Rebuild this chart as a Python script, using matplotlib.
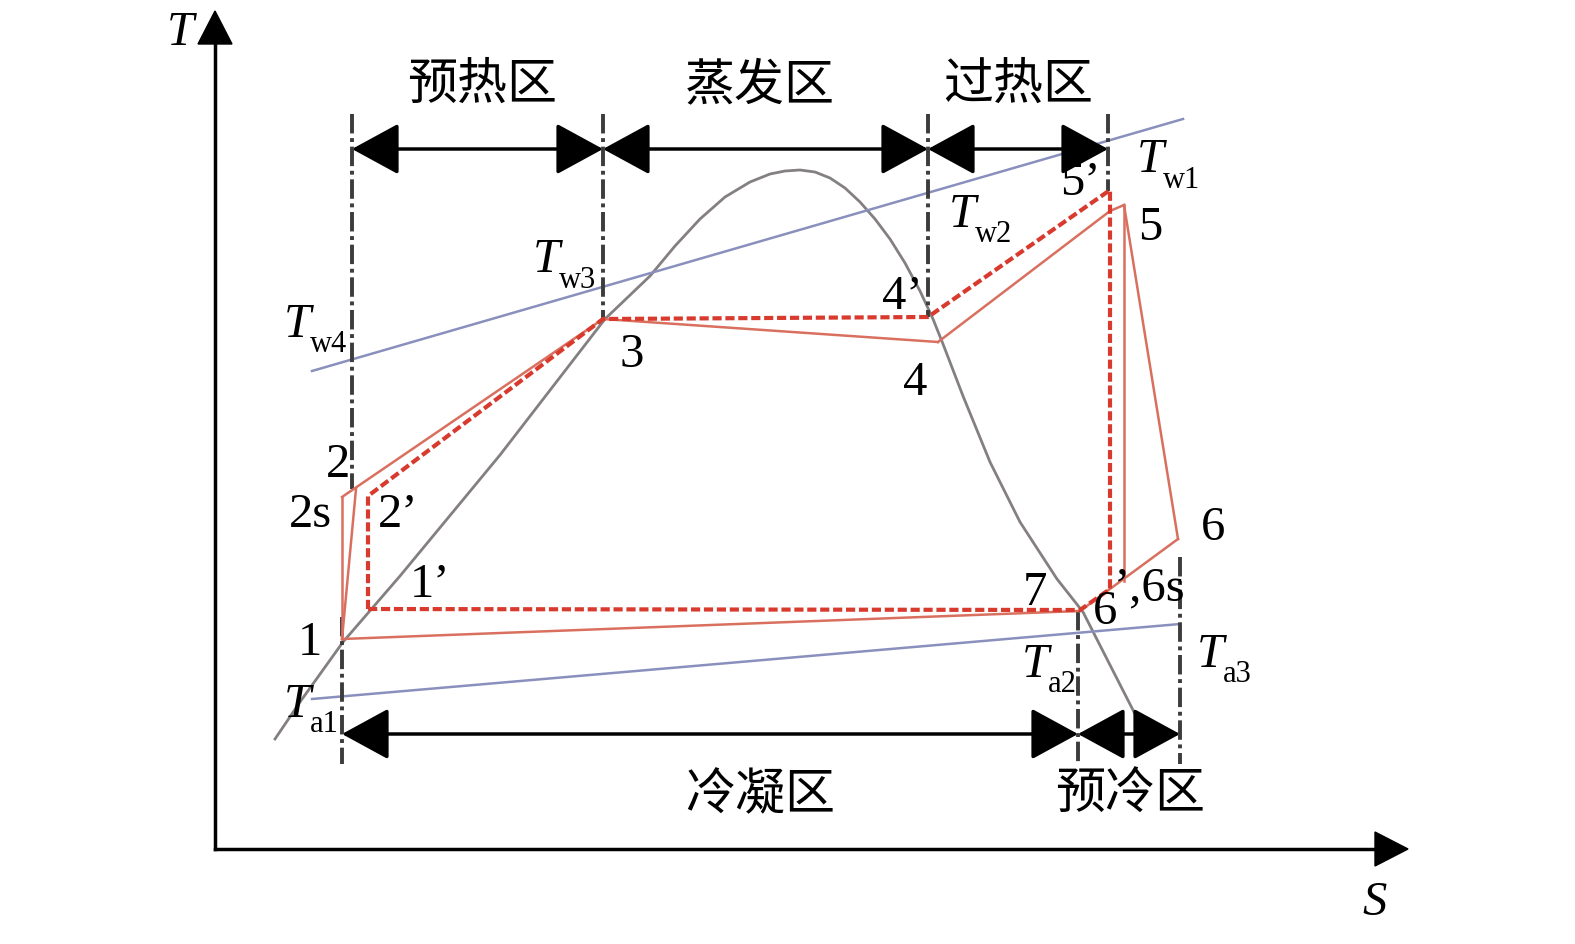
import matplotlib.pyplot as plt

# schematic T-S diagram, coordinates in picture units (x right, y down)
dome_x = [275, 300, 343, 400, 500, 605, 650, 675, 700, 725, 750, 770, 785, 800, 815, 830, 845, 860,
          875, 890, 905, 920, 933, 943, 963, 990, 1020, 1057, 1083, 1135]
dome_y = [740, 703, 643, 577, 456, 320, 277, 247, 220, 198, 183, 175, 172, 171, 173, 179, 189, 203,
          220, 240, 264, 292, 320, 345, 397, 463, 523, 580, 613, 715]

tw_x, tw_y = [312, 1183], [372, 120]
ta_x, ta_y = [312, 1180], [700, 625]

# actual cycle (solid)
real_segments = [
    ([342, 342], [640, 498]),            # 1 -> 2s
    ([342, 356], [640, 490]),            # 1 -> 2
    ([342, 603], [498, 320]),            # 2s -> 2 -> 3
    ([603, 938], [320, 343]),            # 3 -> 4
    ([938, 1110, 1124], [343, 212, 206]),  # 4 -> 5
    ([1124, 1178], [206, 540]),          # 5 -> 6
    ([1124, 1124], [206, 582]),          # 5 -> 6s
    ([1178, 1080], [540, 612]),          # 6 -> 6'
    ([1080, 342], [612, 640]),           # 6' -> 1
]
# ideal cycle (dashed)
ideal_x = [368, 368, 603, 928, 1110, 1110, 1080, 368]
ideal_y = [610, 497, 320, 318, 191, 590, 611, 610]

# zone boundaries
vlines = [(352, 115, 490), (603, 115, 320), (928, 115, 318), (1108, 115, 192),
          (342, 618, 765), (1078, 612, 765), (1180, 558, 765)]
top_bounds = [352, 603, 928, 1108]
bottom_bounds = [342, 1078, 1180]
top_zones = ['预热区', '蒸发区', '过热区']
top_zone_x = [482, 760, 1018]
bottom_zones = ['冷凝区', '预冷区']
bottom_zone_x = [760, 1130]

fig = plt.figure(figsize=(15.75, 9.45), dpi=100)
ax = fig.add_axes([0, 0, 1, 1])
ax.set_xlim(0, 1575)
ax.set_ylim(945, 0)
ax.axis('off')

serif = ['Liberation Serif', 'DejaVu Serif']
cjk = ['Noto Sans CJK SC', 'DejaVu Sans']

# axes with arrows
ax.plot([215, 215], [850, 40], color='black', lw=2.5)
ax.plot([215, 1380], [850, 850], color='black', lw=2.5)
ax.fill([198, 232, 215], [45, 45, 12], color='black')
ax.fill([1375, 1375, 1408], [833, 867, 850], color='black')
ax.text(180, 33, 'T', fontsize=35, family=serif, style='italic', ha='center', va='center')
ax.text(1375, 903, 'S', fontsize=35, family=serif, style='italic', ha='center', va='center')

ax.plot(dome_x, dome_y, color='#858080', lw=2)
ax.plot(tw_x, tw_y, color='#8a90bd', lw=1.8)
ax.plot(ta_x, ta_y, color='#8a90bd', lw=1.8)

for x, y0, y1 in vlines:
    ax.plot([x, x], [y0, y1], color='#3c3c3c', lw=2.8, ls=(0, (5, 1.2, 1, 1.2)))

for xs, ys in real_segments:
    ax.plot(xs, ys, color='#d9705f', lw=1.8)
ax.plot(ideal_x, ideal_y, color='#d83a2e', lw=3, ls=(0, (2.2, 0.9)))

arrow = dict(arrowstyle='<|-|>,head_length=1.1,head_width=0.6', color='black', lw=2.5,
             mutation_scale=27, shrinkA=0, shrinkB=0)
for a, b in zip(top_bounds[:-1], top_bounds[1:]):
    ax.annotate('', xy=(b, 150), xytext=(a, 150), arrowprops=arrow)
for a, b in zip(bottom_bounds[:-1], bottom_bounds[1:]):
    ax.annotate('', xy=(b, 735), xytext=(a, 735), arrowprops=arrow)

for name, x in zip(top_zones, top_zone_x):
    ax.text(x, 85, name, fontsize=36, family=cjk, ha='center', va='center')
for name, x in zip(bottom_zones, bottom_zone_x):
    ax.text(x, 795, name, fontsize=36, family=cjk, ha='center', va='center')

# temperature labels T with subscripts
t_labels = [('w1', 1150, 160), ('w2', 962, 215), ('w3', 546, 260), ('w4', 297, 325),
            ('a1', 297, 705), ('a2', 1035, 665), ('a3', 1210, 655)]
for sub, x, y in t_labels:
    ax.text(x, y, 'T', fontsize=35, family=serif, style='italic', ha='center', va='center')
    ax.text(x + 13, y + 20, sub, fontsize=22, family=serif, ha='left', va='center')

points = [('5’', 1080, 183), ('5', 1150, 228), ('4’', 902, 297), ('3', 632, 355),
          ('4', 915, 383), ('2', 338, 465), ('2s', 310, 515), ('2’', 398, 515),
          ('1’', 430, 585), ('1', 310, 643), ('7', 1035, 593), ('6', 1105, 612),
          ('’,6s', 1150, 588), ('6', 1213, 528)]
for s, x, y in points:
    ax.text(x, y, s, fontsize=35, family=serif, ha='center', va='center')

fig.savefig('out.png', dpi=100)
